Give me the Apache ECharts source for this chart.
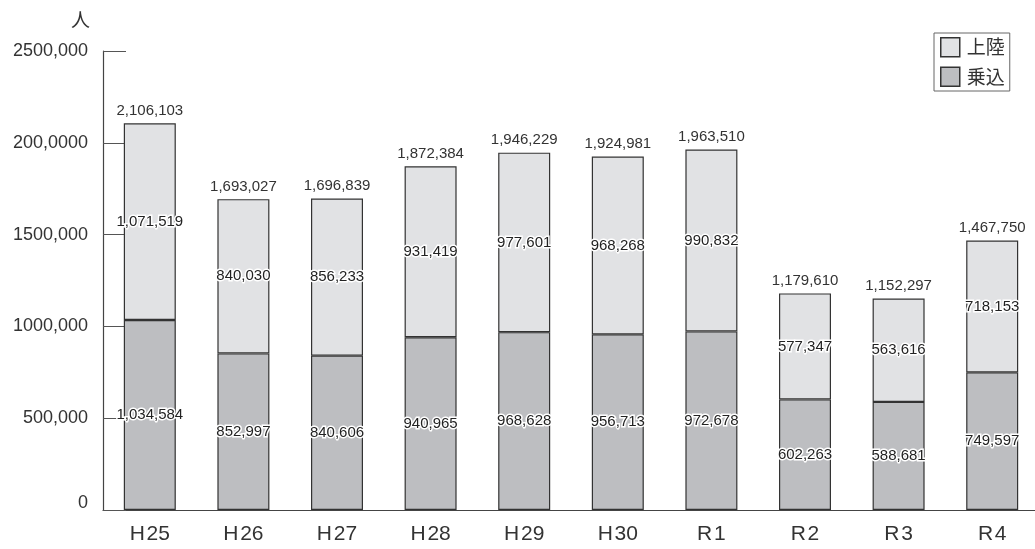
<!DOCTYPE html>
<html>
<head>
<meta charset="utf-8">
<script src="https://cdn.jsdelivr.net/npm/echarts@6/dist/echarts.min.js"></script>
<style>
html,body{margin:0;padding:0;background:#fff;}
#c{width:1035px;height:549px;}
</style>
</head>
<body>
<div id="c"></div>
<script>
const categories = ['H25','H26','H27','H28','H29','H30','R1','R2','R3','R4'];
const boarding = [1034584, 852997, 840606, 940965, 968628, 956713, 972678, 602263, 588681, 749597]; // 乗込
const landing = [1071519, 840030, 856233, 931419, 977601, 968268, 990832, 577347, 563616, 718153]; // 上陸
const totals = [2106103, 1693027, 1696839, 1872384, 1946229, 1924981, 1963510, 1179610, 1152297, 1467750];
const yTickLabels = ['0', '500,000', '1000,000', '1500,000', '200,0000', '2500,000'];
const seriesNames = ['上陸', '乗込'];

const fmt = v => v.toLocaleString('en-US');
const chart = echarts.init(document.getElementById('c'), null, {renderer: 'canvas'});
const yFont = 'Liberation Sans, Arial, sans-serif';
const innerLabel = {
  show: true, position: 'inside', fontSize: 15, color: '#222',
  fontFamily: 'Liberation Sans, Arial, sans-serif',
  textBorderColor: '#fff', textBorderWidth: 3
};
chart.setOption({
  animation: false,
  backgroundColor: '#fff',
  grid: {left: 103, top: 51, bottom: 39, right: -4, containLabel: false, outerBoundsMode: 'none'},
  legend: {
    orient: 'vertical', left: 934, top: 33,
    data: seriesNames,
    itemWidth: 19, itemHeight: 19, itemGap: 9,
    padding: [4, 5, 4, 6],
    borderColor: '#666', borderWidth: 1, backgroundColor: '#fff',
    icon: 'rect',
    itemStyle: {borderColor: '#333', borderWidth: 1.5},
    textStyle: {fontSize: 19, color: '#333', fontFamily: 'Noto Sans CJK JP', padding: [0, 0, 0, 2]}
  },
  graphic: [{type: 'text', left: 71, top: 10, style: {text: '人', fontSize: 19, fill: '#333', fontFamily: 'Noto Sans CJK JP'}}],
  xAxis: {
    type: 'category', data: categories,
    axisLine: {lineStyle: {color: '#444', width: 1.2}},
    axisTick: {inside: true, length: 10, lineStyle: {color: '#444'}},
    axisLabel: {
      fontSize: 21, color: '#333', margin: 14,
      fontFamily: 'Liberation Sans, Arial, sans-serif',
      formatter: v => v.charAt(0) + '\u200A' + v.slice(1)
    }
  },
  yAxis: {
    type: 'value', min: 0, max: 2500000, interval: 500000,
    axisLine: {show: true, lineStyle: {color: '#444', width: 1.2}},
    axisTick: {show: true, inside: true, length: 23, lineStyle: {color: '#555'}},
    splitLine: {show: false},
    axisLabel: {
      fontSize: 18, color: '#333', margin: 15,
      fontFamily: yFont,
      formatter: (v, i) => i === 0 ? '{z|' + yTickLabels[i] + '}' : yTickLabels[i],
      rich: {z: {fontSize: 18, color: '#333', fontFamily: yFont, padding: [0, 0, 14, 0]}}
    }
  },
  series: [
    {
      name: '乗込', type: 'bar', stack: 'a', data: boarding, barWidth: 52,
      itemStyle: {color: '#bdbec1', borderColor: '#333', borderWidth: 1.2},
      label: Object.assign({}, innerLabel, {formatter: p => fmt(p.value)})
    },
    {
      name: '上陸', type: 'bar', stack: 'a', data: landing, barWidth: 52,
      itemStyle: {color: '#e1e2e4', borderColor: '#333', borderWidth: 1.2},
      label: Object.assign({}, innerLabel, {formatter: p => fmt(p.value)})
    },
    {
      name: 'total', type: 'bar', stack: 'a', data: categories.map(() => 0), barWidth: 52,
      itemStyle: {color: 'rgba(0,0,0,0)', borderWidth: 0},
      label: {
        show: true, position: 'top', distance: 5, fontSize: 15, color: '#333',
        fontFamily: 'Liberation Sans, Arial, sans-serif',
        formatter: p => fmt(totals[p.dataIndex])
      }
    }
  ]
});
</script>
</body>
</html>
